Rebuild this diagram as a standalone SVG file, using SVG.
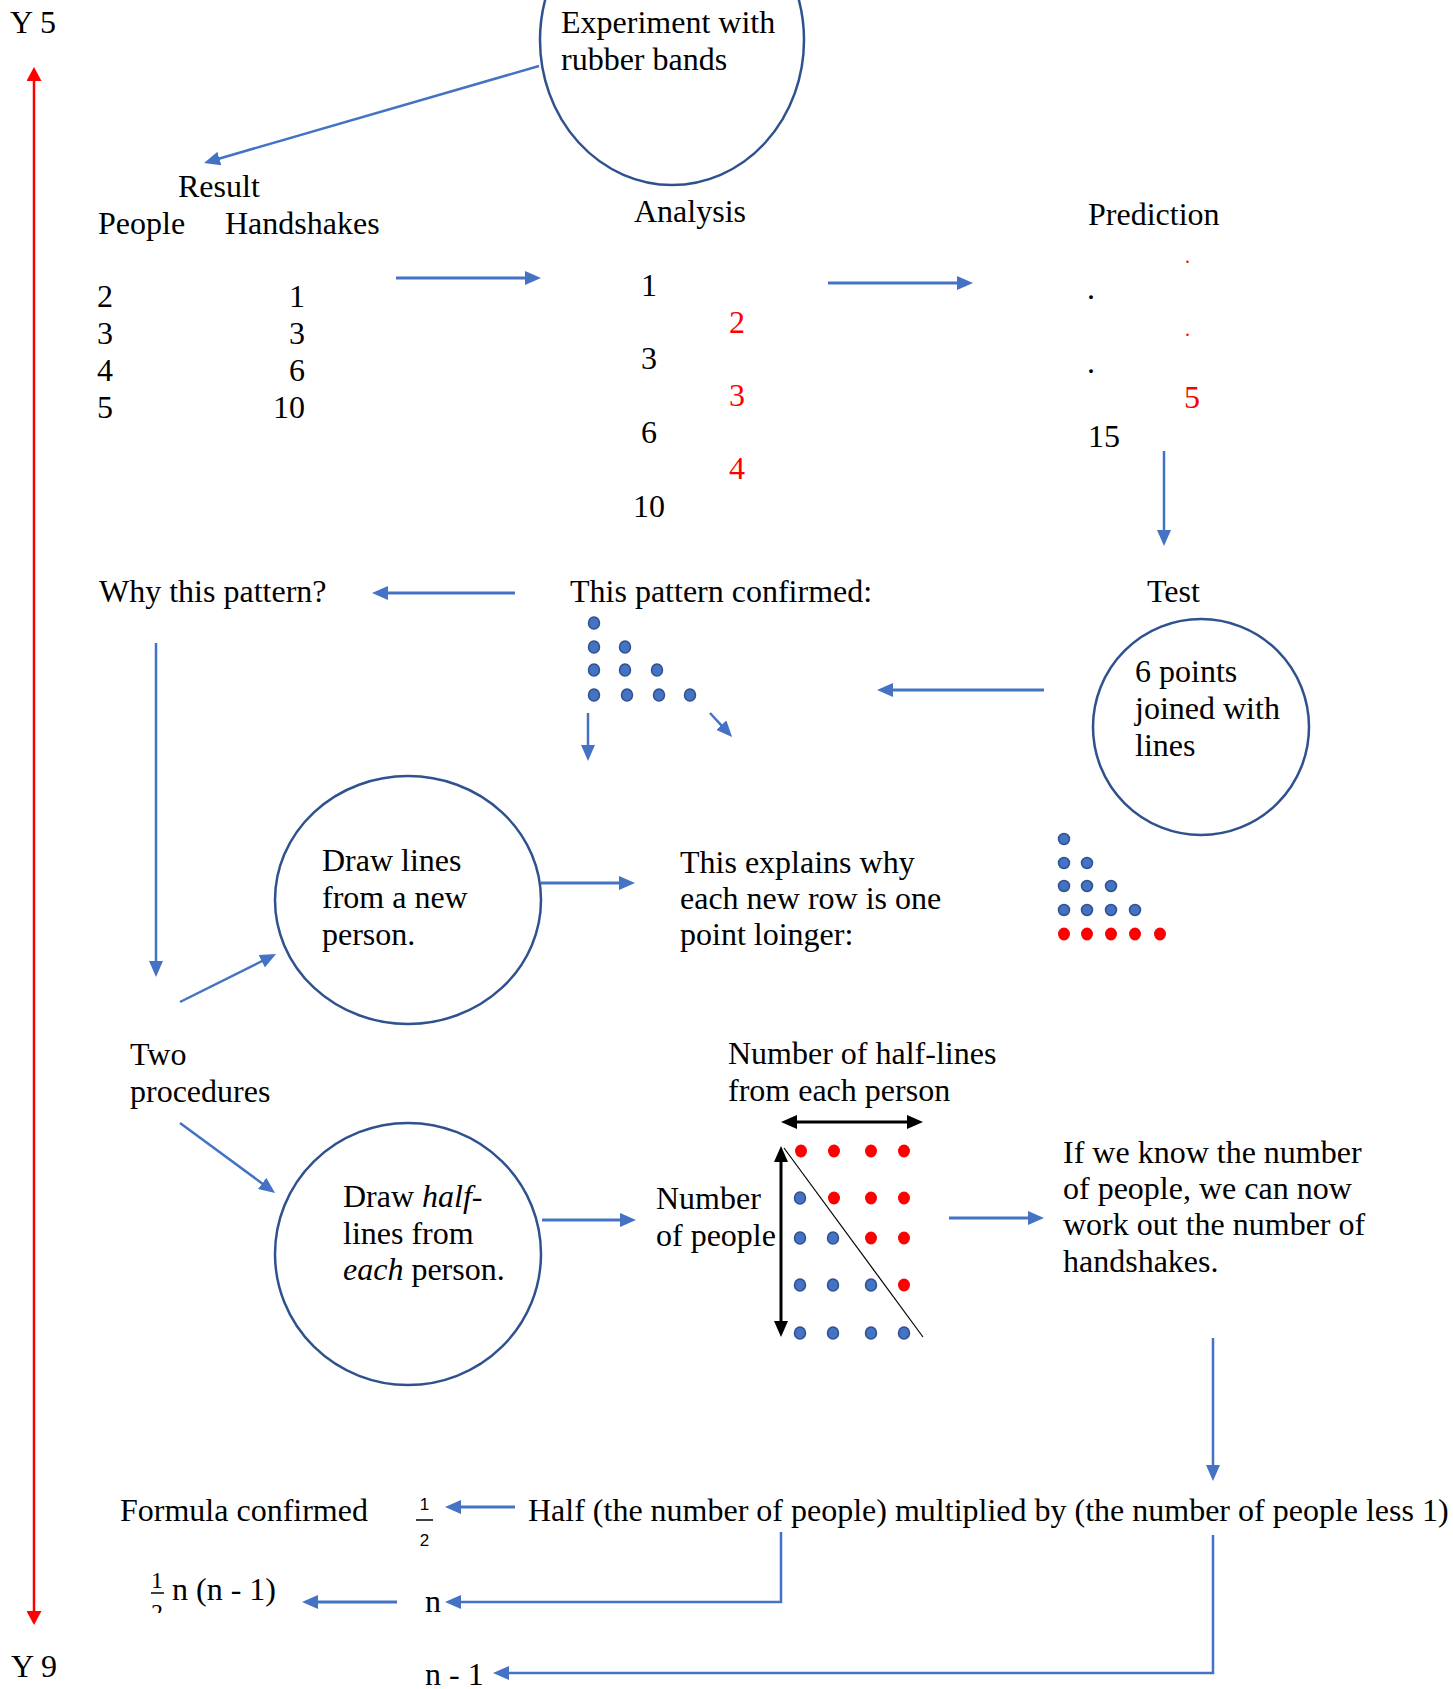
<svg xmlns="http://www.w3.org/2000/svg" width="1453" height="1689" viewBox="0 0 1453 1689">
<style>
text{font-family:"Liberation Serif","Times New Roman",serif;font-size:32px;fill:#000}
.red{fill:#FF0000}
.it{font-style:italic}
.sans{font-family:"Liberation Sans","Open Sans",sans-serif;font-size:17px}
.frac{font-size:24px}
.node{fill:#fff;stroke:#2F528F;stroke-width:2.5}
.c{stroke:#4472C4;stroke-width:2.5;fill:none}
.c3{stroke:#4472C4;stroke-width:3;fill:none}
.bd{fill:#4472C4;stroke:#2F528F;stroke-width:1.5}
.rd{fill:#FF0000}
</style>
<defs>
<marker id="ah" markerUnits="userSpaceOnUse" markerWidth="16" markerHeight="14" refX="6" refY="7" orient="auto"><path d="M0,0 L16,7 L0,14 z" fill="#4472C4"/></marker>
<marker id="rh" markerUnits="userSpaceOnUse" markerWidth="14" markerHeight="15" refX="4" refY="7.5" orient="auto-start-reverse"><path d="M0,0 L14,7.5 L0,15 z" fill="#FF0000"/></marker>
<marker id="kh" markerUnits="userSpaceOnUse" markerWidth="16" markerHeight="14" refX="6" refY="7" orient="auto-start-reverse"><path d="M0,0 L16,7 L0,14 z" fill="#000"/></marker>
<clipPath id="clip2"><rect x="100" y="1596" width="100" height="17"/></clipPath>
</defs>

<g id="timeline">
<text x="10" y="33">Y 5</text>
<line x1="34" y1="77" x2="34" y2="1615" stroke="#FF0000" stroke-width="2.5" marker-start="url(#rh)" marker-end="url(#rh)"/>
<text x="11" y="1677">Y 9</text>
</g>

<g id="experiment">
<ellipse class="node" cx="672" cy="40" rx="132" ry="145"/>
<text x="561" y="33">Experiment with</text>
<text x="561" y="70">rubber bands</text>
</g>

<g id="result">
<text x="178" y="197">Result</text>
<text x="98" y="234">People</text>
<text x="225" y="234">Handshakes</text>
<text x="97" y="307">2</text>
<text x="97" y="344">3</text>
<text x="97" y="381">4</text>
<text x="97" y="418">5</text>
<text x="305" y="307" text-anchor="end">1</text>
<text x="305" y="344" text-anchor="end">3</text>
<text x="305" y="381" text-anchor="end">6</text>
<text x="305" y="418" text-anchor="end">10</text>
</g>

<g id="analysis">
<text x="634" y="222">Analysis</text>
<text x="649" y="296" text-anchor="middle">1</text>
<text x="649" y="369" text-anchor="middle">3</text>
<text x="649" y="443" text-anchor="middle">6</text>
<text x="649" y="517" text-anchor="middle">10</text>
<text class="red" x="729" y="333">2</text>
<text class="red" x="729" y="406">3</text>
<text class="red" x="729" y="479">4</text>
</g>

<g id="prediction">
<text x="1088" y="225">Prediction</text>
<text x="1087" y="299">.</text>
<text x="1087" y="373">.</text>
<text class="red" x="1185" y="263" style="font-size:20px">.</text>
<text class="red" x="1185" y="336" style="font-size:20px">.</text>
<text class="red" x="1184" y="408">5</text>
<text x="1088" y="447">15</text>
</g>

<g id="test">
<text x="1147" y="602">Test</text>
<ellipse class="node" cx="1201" cy="727" rx="108" ry="108"/>
<text x="1135" y="682">6 points</text>
<text x="1135" y="719">joined with</text>
<text x="1135" y="756">lines</text>
</g>

<g id="test-dots">
<circle class="bd" cx="1064" cy="839" r="5.5"/>
<circle class="bd" cx="1064" cy="863" r="5.5"/><circle class="bd" cx="1087" cy="863" r="5.5"/>
<circle class="bd" cx="1064" cy="886" r="5.5"/><circle class="bd" cx="1087" cy="886" r="5.5"/><circle class="bd" cx="1111" cy="886" r="5.5"/>
<circle class="bd" cx="1064" cy="910" r="5.5"/><circle class="bd" cx="1087" cy="910" r="5.5"/><circle class="bd" cx="1111" cy="910" r="5.5"/><circle class="bd" cx="1135" cy="910" r="5.5"/>
<ellipse class="rd" cx="1064" cy="934" rx="6" ry="6.5"/><ellipse class="rd" cx="1087" cy="934" rx="6" ry="6.5"/><ellipse class="rd" cx="1111" cy="934" rx="6" ry="6.5"/><ellipse class="rd" cx="1135" cy="934" rx="6" ry="6.5"/><ellipse class="rd" cx="1160" cy="934" rx="6" ry="6.5"/>
</g>

<g id="pattern-confirmed">
<text x="570" y="602">This pattern confirmed:</text>
<ellipse class="bd" cx="594" cy="623" rx="5.5" ry="6"/>
<ellipse class="bd" cx="594" cy="647" rx="5.5" ry="6"/><ellipse class="bd" cx="625" cy="647" rx="5.5" ry="6"/>
<ellipse class="bd" cx="594" cy="670" rx="5.5" ry="6"/><ellipse class="bd" cx="625" cy="670" rx="5.5" ry="6"/><ellipse class="bd" cx="657" cy="670" rx="5.5" ry="6"/>
<ellipse class="bd" cx="594" cy="695" rx="5.5" ry="6"/><ellipse class="bd" cx="627" cy="695" rx="5.5" ry="6"/><ellipse class="bd" cx="659" cy="695" rx="5.5" ry="6"/><ellipse class="bd" cx="690" cy="695" rx="5.5" ry="6"/>
</g>

<g id="why">
<text x="99" y="602">Why this pattern?</text>
</g>

<g id="draw-lines">
<ellipse class="node" cx="408" cy="900" rx="133" ry="124"/>
<text x="322" y="871">Draw lines</text>
<text x="322" y="908">from a new</text>
<text x="322" y="945">person.</text>
</g>

<g id="explains">
<text x="680" y="873">This explains why</text>
<text x="680" y="909">each new row is one</text>
<text x="680" y="945">point loinger:</text>
</g>

<g id="two-procedures">
<text x="130" y="1065">Two</text>
<text x="130" y="1102">procedures</text>
</g>

<g id="draw-half">
<ellipse class="node" cx="408" cy="1254" rx="133" ry="131"/>
<text x="343" y="1207">Draw <tspan class="it">half</tspan>-</text>
<text x="343" y="1244">lines from</text>
<text x="343" y="1280"><tspan class="it">each</tspan> person.</text>
</g>

<g id="half-lines-grid">
<text x="728" y="1064">Number of half-lines</text>
<text x="728" y="1101">from each person</text>
<text x="656" y="1209">Number</text>
<text x="656" y="1246">of people</text>
<line x1="791" y1="1122" x2="913" y2="1122" stroke="#000" stroke-width="3" marker-start="url(#kh)" marker-end="url(#kh)"/>
<line x1="781" y1="1156" x2="781" y2="1327" stroke="#000" stroke-width="3" marker-start="url(#kh)" marker-end="url(#kh)"/>
<line x1="784" y1="1148" x2="923" y2="1337" stroke="#000" stroke-width="1.2"/>
<ellipse class="rd" cx="801" cy="1151" rx="6" ry="6.5"/><ellipse class="rd" cx="834" cy="1151" rx="6" ry="6.5"/><ellipse class="rd" cx="871" cy="1151" rx="6" ry="6.5"/><ellipse class="rd" cx="904" cy="1151" rx="6" ry="6.5"/>
<ellipse class="bd" cx="800" cy="1198" rx="5.5" ry="6"/><ellipse class="rd" cx="834" cy="1198" rx="6" ry="6.5"/><ellipse class="rd" cx="871" cy="1198" rx="6" ry="6.5"/><ellipse class="rd" cx="904" cy="1198" rx="6" ry="6.5"/>
<ellipse class="bd" cx="800" cy="1238" rx="5.5" ry="6"/><ellipse class="bd" cx="833" cy="1238" rx="5.5" ry="6"/><ellipse class="rd" cx="871" cy="1238" rx="6" ry="6.5"/><ellipse class="rd" cx="904" cy="1238" rx="6" ry="6.5"/>
<ellipse class="bd" cx="800" cy="1285" rx="5.5" ry="6"/><ellipse class="bd" cx="833" cy="1285" rx="5.5" ry="6"/><ellipse class="bd" cx="871" cy="1285" rx="5.5" ry="6"/><ellipse class="rd" cx="904" cy="1285" rx="6" ry="6.5"/>
<ellipse class="bd" cx="800" cy="1333" rx="5.5" ry="6"/><ellipse class="bd" cx="833" cy="1333" rx="5.5" ry="6"/><ellipse class="bd" cx="871" cy="1333" rx="5.5" ry="6"/><ellipse class="bd" cx="904" cy="1333" rx="5.5" ry="6"/>
</g>

<g id="if-we-know">
<text x="1063" y="1163">If we know the number</text>
<text x="1063" y="1199">of people, we can now</text>
<text x="1063" y="1235">work out the number of</text>
<text x="1063" y="1272">handshakes.</text>
</g>

<g id="formula">
<text x="120" y="1521">Formula confirmed</text>
<text class="sans" x="424.5" y="1510" text-anchor="middle">1</text>
<line x1="416" y1="1520" x2="433" y2="1520" stroke="#000" stroke-width="1.5"/>
<text class="sans" x="424.5" y="1546" text-anchor="middle">2</text>
<text x="528" y="1521">Half (the number of people) multiplied by (the number of people less 1)</text>
<text x="425" y="1612">n</text>
<text x="425" y="1685">n - 1</text>
<text class="frac" x="157" y="1588" text-anchor="middle">1</text>
<line x1="151" y1="1593" x2="164" y2="1593" stroke="#000" stroke-width="1.5"/>
<text class="frac" x="157" y="1620" text-anchor="middle" clip-path="url(#clip2)">2</text>
<text x="172" y="1600">n (n - 1)</text>
</g>

<g id="connectors">
<line class="c" x1="539" y1="66" x2="213.6" y2="160.2" marker-end="url(#ah)"/>
<line class="c3" x1="396" y1="278" x2="531" y2="278" marker-end="url(#ah)"/>
<line class="c3" x1="828" y1="283" x2="963" y2="283" marker-end="url(#ah)"/>
<line class="c" x1="1164" y1="451" x2="1164" y2="536" marker-end="url(#ah)"/>
<line class="c3" x1="1044" y1="690" x2="887" y2="690" marker-end="url(#ah)"/>
<line class="c3" x1="515" y1="593" x2="382" y2="593" marker-end="url(#ah)"/>
<line class="c" x1="156" y1="643" x2="156" y2="967" marker-end="url(#ah)"/>
<line class="c" x1="180" y1="1002" x2="267.1" y2="958.5" marker-end="url(#ah)"/>
<line class="c3" x1="541" y1="883" x2="625" y2="883" marker-end="url(#ah)"/>
<line class="c" x1="588" y1="713" x2="588" y2="751" marker-end="url(#ah)"/>
<line class="c" x1="710" y1="713" x2="725.3" y2="729.6" marker-end="url(#ah)"/>
<line class="c" x1="180" y1="1123" x2="267" y2="1187" marker-end="url(#ah)"/>
<line class="c3" x1="542" y1="1220" x2="626" y2="1220" marker-end="url(#ah)"/>
<line class="c3" x1="949" y1="1218" x2="1034" y2="1218" marker-end="url(#ah)"/>
<line class="c" x1="1213" y1="1338" x2="1213" y2="1471" marker-end="url(#ah)"/>
<line class="c3" x1="515" y1="1507" x2="455" y2="1507" marker-end="url(#ah)"/>
<path class="c" d="M781,1532 V1602 H455" marker-end="url(#ah)"/>
<line class="c3" x1="397" y1="1602" x2="312" y2="1602" marker-end="url(#ah)"/>
<path class="c" d="M1213,1535 V1673 H503" marker-end="url(#ah)"/>
</g>
</svg>
